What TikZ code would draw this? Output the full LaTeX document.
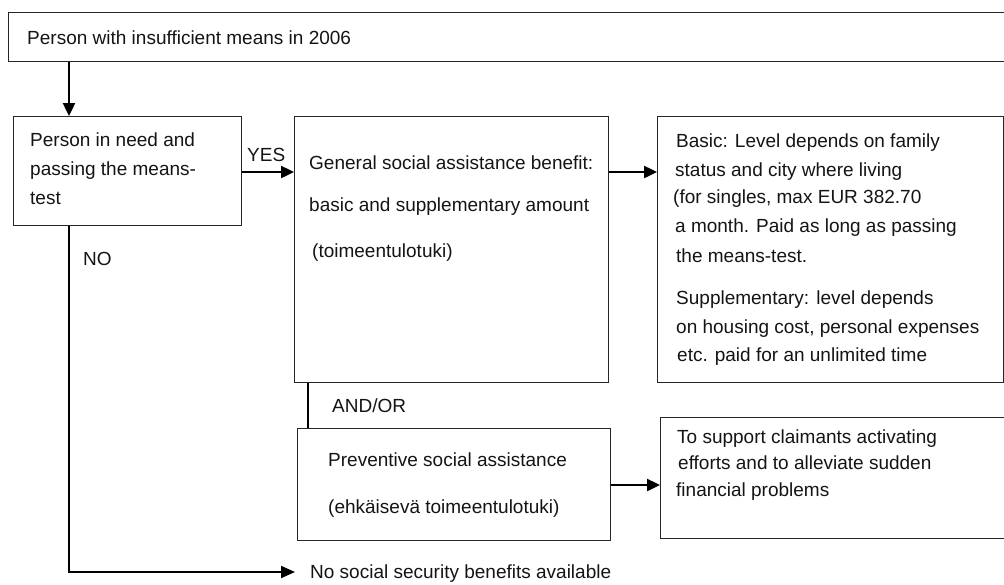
\documentclass[tikz,border=0pt]{standalone}
\usepackage{fontspec}
\setmainfont{Liberation Sans}
\usetikzlibrary{arrows.meta}
\begin{document}
\begin{tikzpicture}[x=1pt,y=-1pt,
  font=\fontsize{19}{23}\selectfont,
  box/.style={draw=black!85, line width=1.1pt, inner sep=0pt, anchor=north west},
  lbl/.style={anchor=base west, inner sep=0pt, text=black!92},
  arr/.style={line width=2.4pt, -{Triangle[length=13pt,width=12pt]}},
  noarr/.style={line width=2pt, -{Triangle[length=14pt,width=12pt]}},
  link/.style={line width=2pt}]
\useasboundingbox (0,0) rectangle (1004,584);

% boxes
\node[box, minimum width=1012, minimum height=49] (top) at (8,12) {};
\node[box, minimum width=228.5, minimum height=109] (need) at (12.5,116) {};
\node[box, minimum width=314, minimum height=266] (general) at (294,116) {};
\node[box, minimum width=346, minimum height=266] (levels) at (657,116) {};
\node[box, minimum width=313, minimum height=112] (prev) at (297,428) {};
\node[box, minimum width=360, minimum height=121] (support) at (660,417) {};

% texts
\node[lbl] (ttop) at (27,44.5) {Person with insufficient means in 2006};

\node[lbl] (n1) at (30,146.5) {Person in need and};
\node[lbl] (n2) at (30,175) {passing the means-};
\node[lbl] (n3) at (30,204) {test};

\node[lbl] (yes) at (247,161.5) {YES};
\node[lbl] (no) at (83,265.5) {NO};
\node[lbl] (andor) at (332,412.5) {AND/OR};

\node[lbl] (g1) at (309,169) {General social assistance benefit:};
\node[lbl] (g2) at (309,211) {basic and supplementary amount};
\node[lbl] (g3) at (312,257) {(toimeentulotuki)};

\node[lbl] (l1) at (676,147.5) {Basic: Level depends on family};
\node[lbl] (l2) at (675,176.5) {status and city where living};
\node[lbl] (l3) at (673,203.5) {(for singles, max EUR 382.70};
\node[lbl] (l4) at (675,232.5) {a month. Paid as long as passing};
\node[lbl] (l5) at (676,262) {the means-test.};
\node[lbl] (l6) at (676,304) {Supplementary: level depends};
\node[lbl] (l7) at (676,333) {on housing cost, personal expenses};
\node[lbl] (l8) at (677,361) {etc. paid for an unlimited time};

\node[lbl] (p1) at (328,466.5) {Preventive social assistance};
\node[lbl] (p2) at (328,513.5) {(ehkäisevä toimeentulotuki)};

\node[lbl] (s1) at (677,443.5) {To support claimants activating};
\node[lbl] (s2) at (678,469.5) {efforts and to alleviate sudden};
\node[lbl] (s3) at (676,496.5) {financial problems};

\node[lbl] (nosoc) at (310,578.5) {No social security benefits available};

% connector guides
\coordinate (xa) at (69,0);
\coordinate (xb) at (308,0);
\coordinate (ya) at (0,172);
\coordinate (yc) at (0,485);
\coordinate (ncorner) at (69,572);
\coordinate (nsend) at (295,572);

% connectors
\draw[arr] (top.south -| xa) -- (need.north -| xa);
\draw[arr] (need.east |- ya) -- (general.west |- ya);
\draw[arr] (general.east |- ya) -- (levels.west |- ya);
\draw[arr] (prev.east |- yc) -- (support.west |- yc);
\draw[link] (general.south -| xb) -- (prev.north -| xb);
\draw[noarr] (need.south -| xa) -- (ncorner) -- (nsend);
\end{tikzpicture}
\end{document}
